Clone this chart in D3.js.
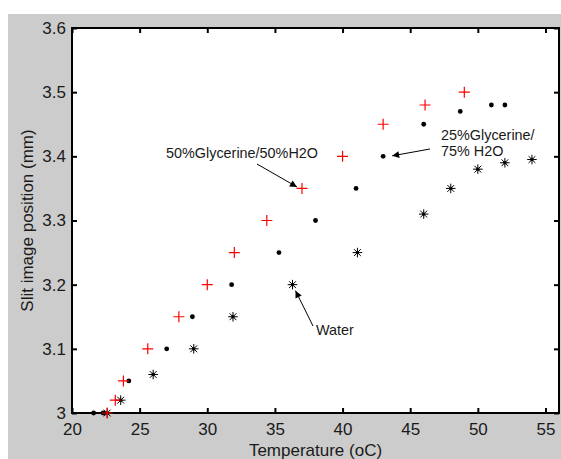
<!DOCTYPE html>
<html>
<head>
<meta charset="utf-8">
<script src="https://cdn.jsdelivr.net/npm/d3@7"></script>
<style>
  html, body { margin: 0; padding: 0; background: #ffffff; }
  svg { display: block; }
  text { font-family: Arial, "Liberation Sans", sans-serif; }
</style>
</head>
<body>
<script>
// Slit image position versus temperature for three liquids
const glyc50Temp = [22.6, 23.2, 23.8, 25.6, 27.9, 30.0, 32.0, 34.4, 37.0, 40.0, 43.0, 46.1, 49.0];
const glyc50Pos  = [3.00, 3.02, 3.05, 3.10, 3.15, 3.20, 3.25, 3.30, 3.35, 3.40, 3.45, 3.48, 3.50];

const glyc25Temp = [21.6, 22.3, 24.2, 27.0, 28.9, 31.8, 35.3, 38.0, 41.0, 43.0, 46.0, 48.7, 51.0, 52.0];
const glyc25Pos  = [3.00, 3.00, 3.05, 3.10, 3.15, 3.20, 3.25, 3.30, 3.35, 3.40, 3.45, 3.47, 3.48, 3.48];

const waterTemp = [22.6, 23.6, 26.0, 29.0, 31.9, 36.3, 41.1, 46.0, 48.0, 50.0, 52.0, 54.0];
const waterPos  = [3.00, 3.02, 3.06, 3.10, 3.15, 3.20, 3.25, 3.31, 3.35, 3.38, 3.39, 3.395];

const xTicks = [20, 25, 30, 35, 40, 45, 50, 55];
const yTicks = [3.0, 3.1, 3.2, 3.3, 3.4, 3.5, 3.6];
const xDomain = [20, 56];
const yDomain = [3.0, 3.6];

const W = 561, H = 459;
const plot = { left: 72, right: 559, top: 28, bottom: 413 };

const svg = d3.select("body").append("svg")
  .attr("width", W).attr("height", H);

// figure background
svg.append("rect").attr("x", 8).attr("y", 14)
  .attr("width", W - 8).attr("height", H - 14)
  .attr("fill", "#cccccc");

// axes area
svg.append("rect")
  .attr("x", plot.left).attr("y", plot.top)
  .attr("width", plot.right - plot.left).attr("height", plot.bottom - plot.top)
  .attr("fill", "#ffffff");

const x = d3.scaleLinear().domain(xDomain).range([plot.left, plot.right]);
const y = d3.scaleLinear().domain(yDomain).range([plot.bottom, plot.top]);

const fmtY = v => (v === 3 ? "3" : d3.format(".1f")(v));

function styleAxis(g, showLabels) {
  g.select(".domain").remove();
  g.selectAll(".tick line").attr("stroke", "#000").attr("stroke-width", 2);
  g.selectAll(".tick text")
    .attr("fill", "#1a1a1a")
    .style("font-size", "17px")
    .style("display", showLabels ? null : "none");
}

svg.append("g").attr("transform", `translate(0,${plot.bottom})`)
  .call(d3.axisBottom(x).tickValues(xTicks).tickSize(-5).tickPadding(10).tickFormat(d3.format("d")))
  .call(g => styleAxis(g, true));
svg.append("g").attr("transform", `translate(0,${plot.top})`)
  .call(d3.axisTop(x).tickValues(xTicks).tickSize(-5).tickFormat(""))
  .call(g => styleAxis(g, false));
svg.append("g").attr("transform", `translate(${plot.left},0)`)
  .call(d3.axisLeft(y).tickValues(yTicks).tickSize(-5).tickPadding(6).tickFormat(fmtY))
  .call(g => styleAxis(g, true));
svg.append("g").attr("transform", `translate(${plot.right},0)`)
  .call(d3.axisRight(y).tickValues(yTicks).tickSize(-5).tickFormat(""))
  .call(g => styleAxis(g, false));

// frame
svg.append("rect")
  .attr("x", plot.left).attr("y", plot.top)
  .attr("width", plot.right - plot.left).attr("height", plot.bottom - plot.top)
  .attr("fill", "none").attr("stroke", "#000").attr("stroke-width", 2);

// axis titles
svg.append("text")
  .attr("x", (plot.left + plot.right) / 2).attr("y", 456)
  .attr("text-anchor", "middle").attr("fill", "#1a1a1a")
  .style("font-size", "17px").text("Temperature (oC)");
svg.append("text")
  .attr("transform", `translate(33,${(plot.top + plot.bottom) / 2}) rotate(-90)`)
  .attr("text-anchor", "middle").attr("fill", "#1a1a1a")
  .style("font-size", "17px").text("Slit image position (mm)");

const marks = svg.append("g");

// water: asterisk markers
const water = waterTemp.map((t, i) => ({ t, p: waterPos[i] }));
const star = marks.selectAll("g.star").data(water).join("g")
  .attr("class", "star")
  .attr("transform", d => `translate(${x(d.t)},${y(d.p)})`);
star.append("path")
  .attr("d", "M-4.8,0H4.8M0,-4.8V4.8M-3.4,-3.4L3.4,3.4M-3.4,3.4L3.4,-3.4")
  .attr("stroke", "#000").attr("stroke-width", 1).attr("fill", "none");
star.append("circle").attr("r", 1.7).attr("fill", "#000");

// 25% glycerine: dot markers
const g25 = glyc25Temp.map((t, i) => ({ t, p: glyc25Pos[i] }));
marks.selectAll("circle.dot").data(g25).join("circle")
  .attr("class", "dot")
  .attr("cx", d => x(d.t)).attr("cy", d => y(d.p))
  .attr("r", 2.4).attr("fill", "#000");

// 50% glycerine: red plus markers
const g50 = glyc50Temp.map((t, i) => ({ t, p: glyc50Pos[i] }));
marks.selectAll("path.plus").data(g50).join("path")
  .attr("class", "plus")
  .attr("transform", d => `translate(${x(d.t)},${y(d.p)})`)
  .attr("d", "M-5.5,0H5.5M0,-5.5V5.5")
  .attr("stroke", "#ff0000").attr("stroke-width", 1.2).attr("fill", "none");

// annotations
svg.append("defs").append("marker")
  .attr("id", "head").attr("viewBox", "0 0 10 10")
  .attr("refX", 10).attr("refY", 5)
  .attr("markerWidth", 10).attr("markerHeight", 7)
  .attr("markerUnits", "userSpaceOnUse")
  .attr("orient", "auto")
  .append("path").attr("d", "M0,0L10,5L0,10Z").attr("fill", "#000");

function arrow(x1, y1, x2, y2) {
  svg.append("line")
    .attr("x1", x1).attr("y1", y1).attr("x2", x2).attr("y2", y2)
    .attr("stroke", "#000").attr("stroke-width", 1)
    .attr("marker-end", "url(#head)");
}
function note(tx, ty, lines) {
  const t = svg.append("text").attr("x", tx).attr("y", ty)
    .attr("fill", "#1a1a1a").style("font-size", "14.4px");
  lines.forEach((s, i) => t.append("tspan").attr("x", tx).attr("dy", i ? 16.5 : 0).text(s));
}

note(166, 158, ["50%Glycerine/50%H2O"]);
arrow(257, 164, x(glyc50Temp[8]) - 5, y(glyc50Pos[8]) - 1.5);

note(441, 139.5, ["25%Glycerine/", "75% H2O"]);
arrow(430, 149, x(glyc25Temp[9]) + 9, y(glyc25Pos[9]) - 0.5);

note(316, 335, ["Water"]);
arrow(313, 326, x(waterTemp[5]) + 3, y(waterPos[5]) + 6);
</script>
</body>
</html>
